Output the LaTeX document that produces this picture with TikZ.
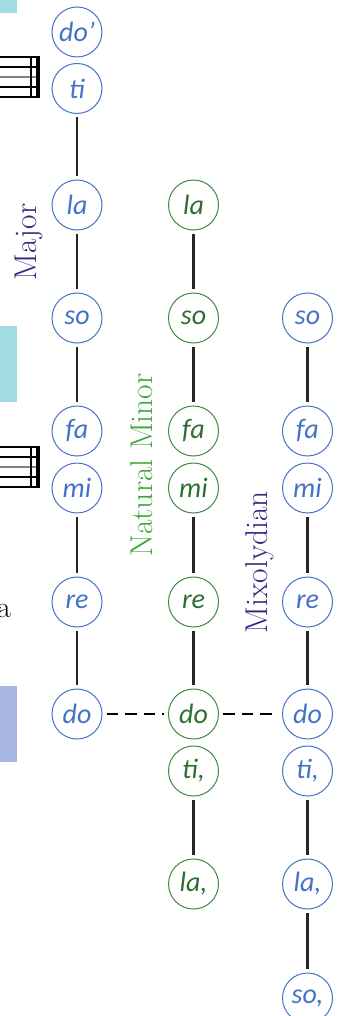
\documentclass[tikz,border=0pt]{standalone}
\usepackage{fontspec}
\newfontfamily\solfa{Carlito}
\definecolor{solblue}{HTML}{4472C4}
\definecolor{solgreen}{HTML}{2E6E31}
\definecolor{ringgreen}{HTML}{3F8A42}
\definecolor{majcol}{HTML}{2E2A80}
\definecolor{mincol}{HTML}{3DA63A}
\definecolor{barcyan}{HTML}{A0DCE2}
\definecolor{barblue}{HTML}{A7B6E0}
\begin{document}
\begin{tikzpicture}[x=1pt,y=-1pt,
  every node/.style={font=\solfa\itshape\fontsize{28}{31}\selectfont},
  syl/.style={draw,circle,minimum size=50pt,inner sep=0pt,line width=1pt},
  bsyl/.style={syl,draw=solblue,text=solblue},
  gsyl/.style={syl,draw=ringgreen,text=solgreen},
  tone/.style={line width=2.4pt,draw=black!85,shorten <=3.5pt,shorten >=3.5pt},
  semi/.style={line width=.8pt,draw=black!25,shorten <=2.8pt,shorten >=2.8pt},
  tonic/.style={line width=1.6pt,dash pattern=on 11.5pt off 7pt,shorten <=4pt,shorten >=4pt},
  mode/.style={rotate=90,anchor=base,inner sep=0pt,font=\rmfamily\upshape\fontsize{31.5}{34}\selectfont}]
  \useasboundingbox (0,0) rectangle (341,1016);
  % what shows of the page to the left
  \fill[barcyan] (-2,-2) rectangle (17,13);
  \fill[barcyan] (-2,326) rectangle (17,402);
  \fill[barblue] (-2,686) rectangle (17,762);
  \draw[line width=1.1pt] (-2,57)--(40,57) (-2,67)--(40,67) (-2,87)--(40,87) (-2,97)--(40,97);
  \draw[line width=1.3pt,black!50] (-2,77)--(40,77);
  \draw[line width=1.3pt] (31,57)--(31,97);
  \draw[line width=4.5pt] (38,57)--(38,97);
  \draw[line width=1.1pt] (-2,447)--(40,447) (-2,457)--(40,457) (-2,477)--(40,477) (-2,487)--(40,487);
  \draw[line width=1.3pt,black!50] (-2,467)--(40,467);
  \draw[line width=1.3pt] (31,447)--(31,487);
  \draw[line width=4.5pt] (38,447)--(38,487);
  \node[anchor=base east,inner sep=0pt,font=\rmfamily\upshape\fontsize{30}{34}\selectfont] (cut) at (11,617) {a};
  % Major
  \node[bsyl] (mdoo) at (77,32) {do’};
  \node[bsyl] (mti) at (77,88.5) {ti};
  \node[bsyl] (mla) at (77,205) {la};
  \node[bsyl] (mso) at (77,318) {so};
  \node[bsyl] (mfa) at (77,431) {fa};
  \node[bsyl] (mmi) at (77,488) {mi};
  \node[bsyl] (mre) at (77,602) {re};
  \node[bsyl] (mdo) at (77,714) {do};
  % Natural Minor
  \node[gsyl] (nla) at (193.5,205) {la};
  \node[gsyl] (nso) at (193.5,318) {so};
  \node[gsyl] (nfa) at (193.5,431) {fa};
  \node[gsyl] (nmi) at (193.5,488) {mi};
  \node[gsyl] (nre) at (193.5,602) {re};
  \node[gsyl] (ndo) at (193.5,714) {do};
  \node[gsyl] (nti) at (193.5,771) {ti,};
  \node[gsyl] (nla-) at (193.5,884) {la,};
  % Mixolydian
  \node[bsyl] (xso) at (307.5,318) {so};
  \node[bsyl] (xfa) at (307.5,431) {fa};
  \node[bsyl] (xmi) at (307.5,488) {mi};
  \node[bsyl] (xre) at (307.5,602) {re};
  \node[bsyl] (xdo) at (307.5,714) {do};
  \node[bsyl] (xti) at (307.5,771) {ti,};
  \node[bsyl] (xla) at (307.5,884) {la,};
  \node[bsyl] (xso-) at (307.5,998) {so,};
  \node[mode,text=majcol] (maj) at (36,242) {Major};
  \node[mode,text=mincol] (nat) at (152,465) {Natural Minor};
  \node[mode,text=majcol] (mix) at (267,562) {Mixolydian};
  \draw[semi] (mdoo)--(mti);
  \draw[tone] (mti)--(mla);
  \draw[tone] (mla)--(mso);
  \draw[tone] (mso)--(mfa);
  \draw[semi] (mfa)--(mmi);
  \draw[tone] (mmi)--(mre);
  \draw[tone] (mre)--(mdo);
  \draw[tone] (nla)--(nso);
  \draw[tone] (nso)--(nfa);
  \draw[semi] (nfa)--(nmi);
  \draw[tone] (nmi)--(nre);
  \draw[tone] (nre)--(ndo);
  \draw[semi] (ndo)--(nti);
  \draw[tone] (nti)--(nla-);
  \draw[tone] (xso)--(xfa);
  \draw[semi] (xfa)--(xmi);
  \draw[tone] (xmi)--(xre);
  \draw[tone] (xre)--(xdo);
  \draw[semi] (xdo)--(xti);
  \draw[tone] (xti)--(xla);
  \draw[tone] (xla)--(xso-);
  \draw[tonic] (mdo)--(ndo);
  \draw[tonic] (ndo)--(xdo);
\end{tikzpicture}
\end{document}
